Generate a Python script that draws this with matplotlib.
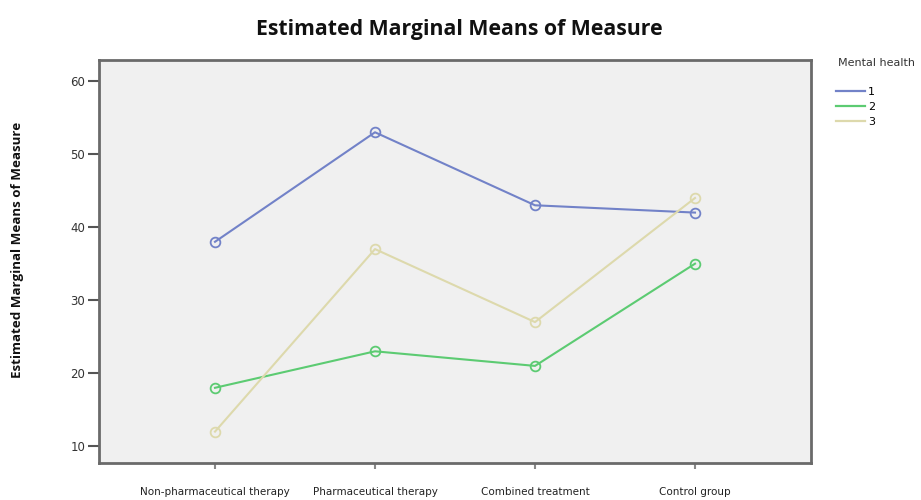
import matplotlib
matplotlib.use("Agg")
import matplotlib.pyplot as plt
from matplotlib.lines import Line2D

categories = ["Non-pharmaceutical therapy", "Pharmaceutical therapy", "Combined treatment", "Control group"]
series_names = ["1", "2", "3"]
mh1 = [38, 53, 43, 42]
mh2 = [18, 23, 21, 35]
mh3 = [12, 37, 27, 44]
yticks = [10, 20, 30, 40, 50, 60]
colors = ["#7282c8", "#5ccb72", "#ddd9ac"]

W, H = 921, 500
fig = plt.figure(figsize=(W / 100, H / 100), dpi=100)
ax = fig.add_axes([99 / W, 1 - 463 / H, (811 - 99) / W, (463 - 60) / H])
ax.set_facecolor("#f0f0f0")

x = list(range(len(categories)))
for vals, c in zip([mh1, mh2, mh3], colors):
    ax.plot(x, vals, color=c, lw=1.5, marker="o", ms=7, mfc="none", mec=c, mew=1.3)

ax.set_xlim(-0.725, 3.725)
ax.set_ylim(7.7, 62.9)
ax.set_yticks(yticks)
ax.set_yticklabels([str(v) for v in yticks], fontsize=8.5, color="#333333", family="DejaVu Sans")
ax.set_xticks(x)
ax.set_xticklabels(categories, fontsize=7.5, family="Liberation Sans Narrow", color="#222222")
ax.tick_params(axis="y", length=8, width=1.5, color="#555555", pad=2)
ax.tick_params(axis="x", length=4, width=1.5, color="#888888", pad=13, direction="out")
for s in ax.spines.values():
    s.set_color("#6a6a6a")
    s.set_linewidth(2)

fig.text(459 / W, 1 - 30 / H, "Estimated Marginal Means of Measure", ha="center", va="center",
         fontsize=15.3, fontweight="bold", family="Open Sans", color="#111111")
fig.text(18 / W, 1 - 250 / H, "Estimated Marginal Means of Measure", ha="center", va="center",
         rotation=90, fontsize=9.6, fontweight="bold", family="Open Sans", color="#111111")

fig.text(838 / W, 1 - 63 / H, "Mental health", ha="left", va="center", fontsize=8,
         color="#333333", family="DejaVu Sans")
handles = [Line2D([0], [0], color=c, lw=1.6) for c in colors]
leg = fig.legend(handles, series_names, loc="upper left",
                 bbox_to_anchor=(836 / W, 1 - 87 / H), frameon=False, fontsize=8,
                 handlelength=2.6, handletextpad=0.3, labelspacing=0.45,
                 borderaxespad=0, borderpad=0)

fig.savefig("out.png", dpi=100)
